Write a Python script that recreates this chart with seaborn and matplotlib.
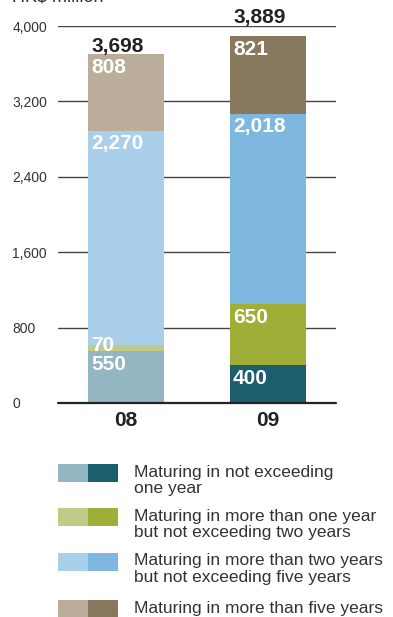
import numpy as np
import matplotlib
matplotlib.use("Agg")
import matplotlib.pyplot as plt
from matplotlib.patches import Rectangle
import seaborn as sns

# ---- data -------------------------------------------------------------
years = ["08", "09"]
maturity_bands = [
    "Maturing in not exceeding\none year",
    "Maturing in more than one year\nbut not exceeding two years",
    "Maturing in more than two years\nbut not exceeding five years",
    "Maturing in more than five years",
]
values_08 = [550, 70, 2270, 808]
values_09 = [400, 650, 2018, 821]
totals = [3698, 3889]
y_ticks = [0, 800, 1600, 2400, 3200, 4000]
y_tick_labels = ["0", "800", "1,600", "2,400", "3,200", "4,000"]
unit_label = "HK$ million"

# ---- styling ----------------------------------------------------------
colors_08 = ["#94b5c2", "#c0cb88", "#aacfea", "#baae9b"]
colors_09 = ["#1c5e6b", "#9fae36", "#7eb8e0", "#87785e"]
TEXT = "#333333"
DARK = "#222222"
BAR_WIDTH = 0.535
MIN_LABEL_ROOM = 200   # keep in-bar labels of thin segments readable
TOTAL_CLEARANCE = 200  # totals this close to the top gridline sit above it

sns.set_style("white")
plt.rcParams["font.family"] = ["Liberation Sans", "DejaVu Sans"]

W, H = 393, 617
fig = plt.figure(figsize=(W / 100, H / 100), dpi=100)
ax = fig.add_axes([58 / W, (H - 403) / H, 278 / W, 377 / H])

vals = np.array([values_08, values_09])
cum = np.cumsum(vals, axis=1)

# stacked bars: draw cumulative heights from the top segment down
for k in range(len(maturity_bands) - 1, -1, -1):
    sns.barplot(
        x=years, y=cum[:, k], hue=years,
        palette=[colors_08[k], colors_09[k]],
        width=BAR_WIDTH, saturation=1, errorbar=None, legend=False,
        linewidth=0, ax=ax, zorder=2,
    )

ymax = 4000
ax.set_xlim(-0.479, 1.479)
ax.set_ylim(0, ymax)
ax.set_yticks(y_ticks)
ax.set_yticklabels(y_tick_labels)
for lab in ax.get_yticklabels():
    lab.set_horizontalalignment("left")
ax.tick_params(axis="y", length=0, pad=33, labelsize=10, labelcolor=TEXT)
ax.tick_params(axis="x", length=0, pad=6, labelsize=15, labelcolor=DARK)
for lab in ax.get_xticklabels():
    lab.set_fontweight("bold")
ax.set_xlabel("")
ax.set_ylabel("")
for s in ax.spines.values():
    s.set_visible(False)
ax.yaxis.grid(True, color="#444444", linewidth=1.0)
ax.set_axisbelow(True)
ax.axhline(0, color=DARK, linewidth=1.6, zorder=3, clip_on=False)

# segment value labels, top-left inside each segment
for i in range(len(years)):
    left = i - BAR_WIDTH / 2
    for k in range(len(maturity_bands)):
        bottom = cum[i, k - 1] if k > 0 else 0
        top = cum[i, k]
        anchor = max(top, bottom + MIN_LABEL_ROOM)
        ax.annotate(f"{vals[i, k]:,}", xy=(left, anchor),
                    xytext=(2.2, -2.5), textcoords="offset points",
                    ha="left", va="top", color="white",
                    fontsize=15, fontweight="bold", zorder=4)
    # total above the bar (or above the top gridline when close to it)
    t_anchor = totals[i] if totals[i] + TOTAL_CLEARANCE < ymax else ymax
    ax.annotate(f"{totals[i]:,}", xy=(left, t_anchor),
                xytext=(2.2, 2), textcoords="offset points",
                ha="left", va="baseline", color=DARK,
                fontsize=15, fontweight="bold", annotation_clip=False)

# unit label at top left
fig.text(12 / W, 1 - 1.5 / H, unit_label, ha="left", va="baseline",
         fontsize=13, color=TEXT)

# legend: two swatches (2008 / 2009 shade) per maturity band
row_tops = [464, 508, 552.7, 600]
sw_h = 18
for k, label in enumerate(maturity_bands):
    y0 = row_tops[k]
    for j, col in enumerate([colors_08[k], colors_09[k]]):
        fig.add_artist(Rectangle((
            (58 + 30 * j) / W, 1 - (y0 + sw_h) / H), 30 / W, sw_h / H,
            transform=fig.transFigure, facecolor=col, edgecolor="none"))
    fig.text(134 / W, 1 - (y0 + 0.5) / H, label, ha="left", va="top",
             fontsize=12.5, color=TEXT, linespacing=1.15)

fig.savefig("out.png", dpi=100)
